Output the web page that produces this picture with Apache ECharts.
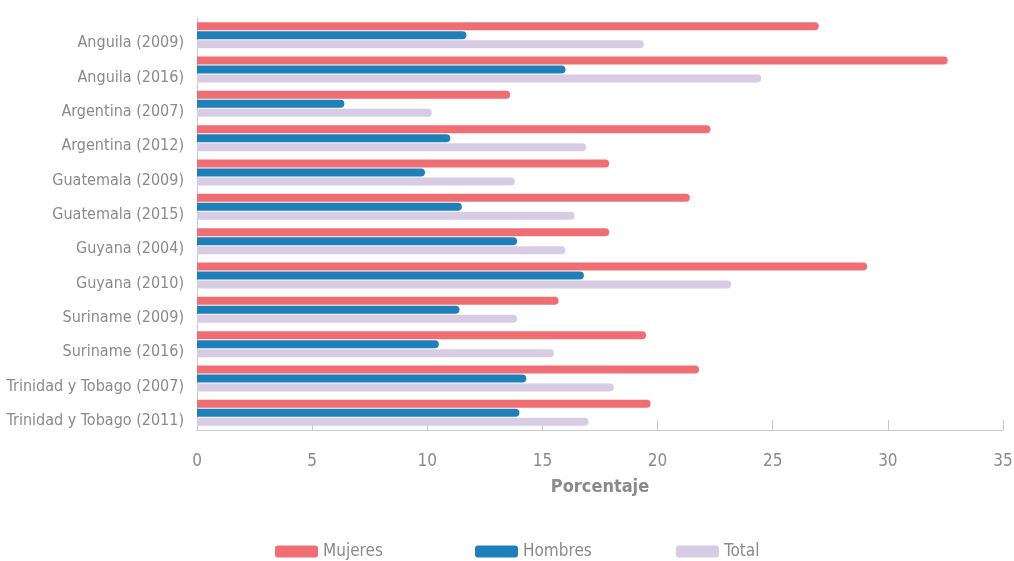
<!DOCTYPE html>
<html><head><meta charset="utf-8">
<script src="https://cdn.jsdelivr.net/npm/echarts@6/dist/echarts.min.js"></script>
<style>html,body{margin:0;padding:0;background:#fff}#c{width:1014px;height:561px}</style>
</head><body><div id="c"></div>
<script>
const categories = ["Anguila (2009)","Anguila (2016)","Argentina (2007)","Argentina (2012)","Guatemala (2009)","Guatemala (2015)","Guyana (2004)","Guyana (2010)","Suriname (2009)","Suriname (2016)","Trinidad y Tobago (2007)","Trinidad y Tobago (2011)"];
const mujeres = [27.0,32.6,13.6,22.3,17.9,21.4,17.9,29.1,15.7,19.5,21.8,19.7];
const hombres = [11.7,16.0,6.4,11.0,9.9,11.5,13.9,16.8,11.4,10.5,14.3,14.0];
const total = [19.4,24.5,10.2,16.9,13.8,16.4,16.0,23.2,13.9,15.5,18.1,17.0];
const xTicks = [0,5,10,15,20,25,30,35];
const seriesNames = ["Mujeres","Hombres","Total"];

const font = '"Liberation Sans Narrow","DejaVu Sans Condensed",sans-serif';
const grey = '#8a8a8a';
const colors = ['#ef6e74','#1f80b9','#d8cbe4'];
const data = [mujeres,hombres,total];
const chart = echarts.init(document.getElementById('c'));
const legendLefts = [270,470,671];
chart.setOption({
  animation:false,
  color: colors,
  textStyle:{fontFamily:font},
  grid:{left:197,right:11,top:18,bottom:131,containLabel:false,outerBoundsMode:'none'},
  legend: seriesNames.map((n,i)=>({
    data:[n], left:legendLefts[i], top:538, itemWidth:43, itemHeight:12,
    icon:'roundRect',
    textStyle:{fontFamily:font,fontSize:17,color:grey}
  })),
  xAxis:{
    type:'value', min:xTicks[0], max:xTicks[xTicks.length-1], interval:5,
    name:'Porcentaje', nameLocation:'middle', nameGap:48,
    nameTextStyle:{fontFamily:font,fontSize:18,fontWeight:'bold',color:grey},
    axisLine:{show:true,lineStyle:{color:'#c8c8c8'}},
    axisTick:{show:true,inside:true,length:10,lineStyle:{color:'#c8c8c8'}},
    axisLabel:{fontFamily:font,fontSize:17,color:grey,margin:23},
    splitLine:{show:false}
  },
  yAxis:{
    type:'category', data:categories, inverse:true,
    axisLine:{show:true,lineStyle:{color:'#c8c8c8'}},
    axisTick:{show:false},
    axisLabel:{fontFamily:font,fontSize:16,color:grey,margin:13,verticalAlign:'top'}
  },
  series: seriesNames.map((n,i)=>({
    name:n, type:'bar', data:data[i], barWidth:8, barGap:'12%',
    itemStyle:{color:colors[i],borderRadius:[0,4,4,0]}
  }))
});
</script></body></html>
